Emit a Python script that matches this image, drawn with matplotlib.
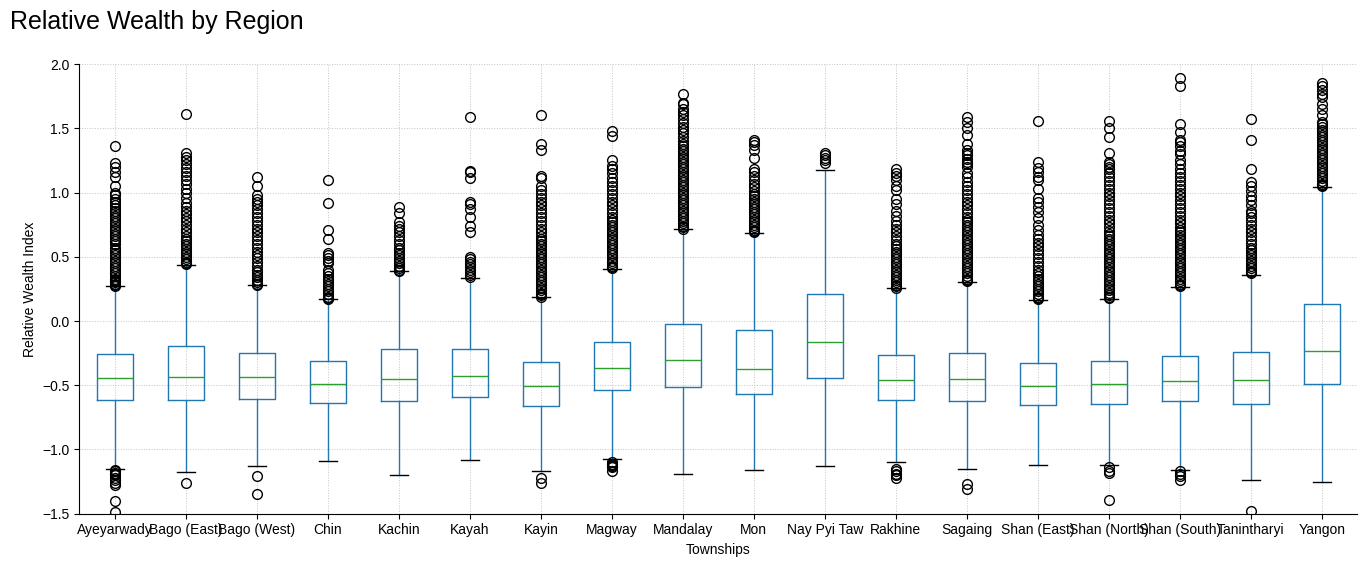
import matplotlib.pyplot as plt

plt.rcParams["font.family"] = ["Liberation Sans", "DejaVu Sans"]

# Regiones y estadisticas de las cajas
regions = ["Ayeyarwady", "Bago (East)", "Bago (West)", "Chin", "Kachin", "Kayah",
           "Kayin", "Magway", "Mandalay", "Mon", "Nay Pyi Taw", "Rakhine",
           "Sagaing", "Shan (East)", "Shan (North)", "Shan (South)",
           "Tanintharyi", "Yangon"]

q1 = [-0.617, -0.617, -0.609, -0.640, -0.625, -0.593, -0.663, -0.539, -0.516,
      -0.570, -0.446, -0.617, -0.625, -0.656, -0.648, -0.625, -0.648, -0.492]
medians = [-0.446, -0.438, -0.438, -0.492, -0.453, -0.430, -0.508, -0.368, -0.306,
           -0.376, -0.166, -0.461, -0.453, -0.508, -0.492, -0.469, -0.461, -0.236]
q3 = [-0.259, -0.197, -0.252, -0.314, -0.220, -0.220, -0.321, -0.161, -0.026,
      -0.073, 0.207, -0.267, -0.252, -0.329, -0.314, -0.275, -0.244, 0.130]
whisker_low = [-1.153, -1.177, -1.130, -1.091, -1.200, -1.083, -1.169, -1.075, -1.192,
               -1.161, -1.130, -1.099, -1.153, -1.122, -1.122, -1.161, -1.239, -1.254]
whisker_high = [0.270, 0.433, 0.277, 0.169, 0.389, 0.332, 0.184, 0.402, 0.713,
                0.682, 1.172, 0.254, 0.300, 0.161, 0.169, 0.262, 0.355, 1.040]

# Valores atipicos por region
outliers = {
    "Ayeyarwady": [0.27, 0.28, 0.29, 0.30, 0.31, 0.32, 0.33, 0.35, 0.37, 0.39, 0.41, 0.43,
                   0.45, 0.47, 0.49, 0.51, 0.53, 0.55, 0.57, 0.60, 0.62, 0.64, 0.66, 0.68,
                   0.70, 0.72, 0.74, 0.76, 0.78, 0.80, 0.82, 0.84, 0.86, 0.88, 0.90, 0.93,
                   0.95, 0.98, 1.00, 1.05, 1.12, 1.16, 1.20, 1.23, 1.36,
                   -1.16, -1.17, -1.18, -1.19, -1.20, -1.22, -1.24, -1.26, -1.28, -1.40, -1.49],
    "Bago (East)": [0.44, 0.45, 0.46, 0.48, 0.50, 0.52, 0.54, 0.56, 0.58, 0.60, 0.62, 0.64,
                    0.66, 0.69, 0.72, 0.75, 0.78, 0.80, 0.83, 0.86, 0.89, 0.92, 0.96, 1.00,
                    1.03, 1.07, 1.10, 1.13, 1.16, 1.19, 1.22, 1.25, 1.28, 1.31, 1.61, -1.26],
    "Bago (West)": [0.28, 0.29, 0.30, 0.32, 0.34, 0.36, 0.38, 0.40, 0.43, 0.46, 0.49, 0.51,
                    0.54, 0.57, 0.60, 0.63, 0.66, 0.69, 0.72, 0.75, 0.78, 0.81, 0.84, 0.87,
                    0.90, 0.93, 0.95, 0.98, 1.05, 1.12, -1.21, -1.35],
    "Chin": [0.17, 0.18, 0.19, 0.21, 0.23, 0.25, 0.27, 0.29, 0.31, 0.33, 0.35, 0.37, 0.40,
             0.45, 0.47, 0.49, 0.51, 0.53, 0.64, 0.71, 0.92, 1.10],
    "Kachin": [0.39, 0.40, 0.41, 0.43, 0.45, 0.47, 0.49, 0.51, 0.53, 0.55, 0.57, 0.60, 0.63,
               0.66, 0.69, 0.72, 0.74, 0.77, 0.84, 0.89],
    "Kayah": [0.34, 0.36, 0.38, 0.40, 0.42, 0.44, 0.46, 0.48, 0.50, 0.69, 0.74, 0.81, 0.87,
              0.91, 0.93, 1.11, 1.16, 1.17, 1.59],
    "Kayin": [0.19, 0.20, 0.21, 0.22, 0.24, 0.26, 0.28, 0.30, 0.32, 0.34, 0.36, 0.38, 0.40,
              0.42, 0.44, 0.46, 0.48, 0.50, 0.52, 0.54, 0.56, 0.58, 0.60, 0.62, 0.64, 0.66,
              0.69, 0.72, 0.75, 0.78, 0.81, 0.84, 0.87, 0.90, 0.93, 0.96, 0.99, 1.02, 1.05,
              1.11, 1.13, 1.33, 1.38, 1.60, -1.22, -1.26],
    "Magway": [0.41, 0.42, 0.43, 0.45, 0.47, 0.49, 0.51, 0.53, 0.55, 0.57, 0.59, 0.61, 0.63,
               0.65, 0.67, 0.69, 0.71, 0.73, 0.75, 0.77, 0.79, 0.81, 0.84, 0.87, 0.90, 0.93,
               0.96, 0.99, 1.02, 1.05, 1.08, 1.11, 1.15, 1.18, 1.21, 1.25, 1.44, 1.48,
               -1.10, -1.11, -1.12, -1.13, -1.14, -1.17],
    "Mandalay": [0.72, 0.73, 0.74, 0.76, 0.78, 0.80, 0.82, 0.84, 0.86, 0.88, 0.90, 0.92,
                 0.94, 0.96, 0.98, 1.00, 1.02, 1.04, 1.06, 1.08, 1.10, 1.12, 1.14, 1.16,
                 1.18, 1.20, 1.22, 1.24, 1.26, 1.28, 1.30, 1.32, 1.34, 1.36, 1.38, 1.40,
                 1.43, 1.46, 1.49, 1.51, 1.54, 1.57, 1.60, 1.63, 1.65, 1.69, 1.70, 1.77],
    "Mon": [0.69, 0.70, 0.71, 0.73, 0.75, 0.77, 0.79, 0.81, 0.83, 0.85, 0.87, 0.89, 0.91,
            0.93, 0.95, 0.97, 0.99, 1.01, 1.04, 1.07, 1.10, 1.13, 1.16, 1.18, 1.27, 1.33,
            1.37, 1.39, 1.41],
    "Nay Pyi Taw": [1.23, 1.25, 1.27, 1.29, 1.31],
    "Rakhine": [0.26, 0.27, 0.28, 0.30, 0.32, 0.34, 0.36, 0.38, 0.40, 0.42, 0.44, 0.46,
                0.48, 0.50, 0.52, 0.54, 0.56, 0.58, 0.60, 0.63, 0.66, 0.69, 0.72, 0.75,
                0.78, 0.82, 0.86, 0.91, 0.95, 1.02, 1.05, 1.10, 1.13, 1.15, 1.18,
                -1.15, -1.17, -1.19, -1.20, -1.22],
    "Sagaing": [0.31, 0.32, 0.33, 0.35, 0.37, 0.39, 0.41, 0.43, 0.45, 0.47, 0.49, 0.51,
                0.53, 0.55, 0.57, 0.59, 0.61, 0.63, 0.65, 0.67, 0.69, 0.71, 0.73, 0.75,
                0.77, 0.79, 0.81, 0.84, 0.87, 0.90, 0.93, 0.96, 0.99, 1.02, 1.05, 1.08,
                1.12, 1.15, 1.20, 1.22, 1.24, 1.26, 1.29, 1.31, 1.33, 1.38, 1.45, 1.50,
                1.55, 1.59, -1.27, -1.31],
    "Shan (East)": [0.17, 0.18, 0.19, 0.21, 0.23, 0.25, 0.27, 0.29, 0.31, 0.33, 0.35, 0.37,
                    0.40, 0.43, 0.46, 0.49, 0.52, 0.55, 0.58, 0.61, 0.64, 0.67, 0.71, 0.75,
                    0.80, 0.85, 0.89, 0.93, 0.96, 1.03, 1.10, 1.12, 1.16, 1.19, 1.24, 1.56],
    "Shan (North)": [0.18, 0.19, 0.20, 0.22, 0.24, 0.26, 0.28, 0.30, 0.32, 0.34, 0.36,
                     0.38, 0.40, 0.42, 0.44, 0.46, 0.48, 0.50, 0.52, 0.54, 0.56, 0.58,
                     0.60, 0.62, 0.64, 0.66, 0.68, 0.70, 0.73, 0.76, 0.79, 0.82, 0.85,
                     0.88, 0.91, 0.94, 0.97, 1.00, 1.03, 1.06, 1.09, 1.12, 1.15, 1.18,
                     1.20, 1.22, 1.24, 1.31, 1.43, 1.50, 1.56,
                     -1.14, -1.17, -1.18, -1.39],
    "Shan (South)": [0.27, 0.28, 0.29, 0.31, 0.33, 0.35, 0.37, 0.39, 0.41, 0.43, 0.45,
                     0.47, 0.49, 0.51, 0.53, 0.55, 0.57, 0.59, 0.61, 0.63, 0.65, 0.67,
                     0.69, 0.71, 0.73, 0.76, 0.79, 0.82, 0.85, 0.88, 0.91, 0.94, 0.97,
                     1.00, 1.03, 1.06, 1.09, 1.12, 1.15, 1.18, 1.22, 1.25, 1.30, 1.32,
                     1.36, 1.39, 1.41, 1.47, 1.53, 1.83, 1.89,
                     -1.17, -1.19, -1.21, -1.24],
    "Tanintharyi": [0.37, 0.38, 0.39, 0.41, 0.43, 0.45, 0.47, 0.49, 0.51, 0.53, 0.55,
                    0.57, 0.60, 0.63, 0.66, 0.69, 0.72, 0.75, 0.78, 0.81, 0.84, 0.86,
                    0.90, 0.94, 0.97, 1.01, 1.05, 1.08, 1.18, 1.41, 1.57, -1.48],
    "Yangon": [1.05, 1.06, 1.07, 1.09, 1.11, 1.13, 1.15, 1.17, 1.19, 1.21, 1.23, 1.25,
               1.27, 1.29, 1.31, 1.33, 1.35, 1.37, 1.39, 1.41, 1.43, 1.45, 1.47, 1.49,
               1.51, 1.53, 1.55, 1.60, 1.65, 1.69, 1.74, 1.77, 1.80, 1.83, 1.85],
}

stats = []
for i, r in enumerate(regions):
    stats.append({
        "label": r,
        "q1": q1[i],
        "med": medians[i],
        "q3": q3[i],
        "whislo": whisker_low[i],
        "whishi": whisker_high[i],
        "fliers": outliers[r],
    })

fig, ax = plt.subplots(figsize=(13.67, 5.67), dpi=100)
fig.subplots_adjust(left=0.058, right=0.993, top=0.887, bottom=0.094)

ax.bxp(stats, widths=0.5,
       boxprops=dict(color="#1f77b4"),
       whiskerprops=dict(color="#1f77b4"),
       capprops=dict(color="black"),
       medianprops=dict(color="#2ca02c"),
       flierprops=dict(marker="o", markerfacecolor="none",
                       markeredgecolor="black", markersize=7))

ax.set_ylim(-1.5, 2.0)
ax.set_xlim(0.5, len(regions) + 0.5)
ax.grid(True, linestyle=":", color="#c4c4c4", linewidth=0.7)
ax.set_axisbelow(True)
ax.spines["top"].set_visible(False)
ax.spines["right"].set_visible(False)
ax.tick_params(labelsize=10)
ax.set_xlabel("Townships", fontsize=10)
ax.set_ylabel("Relative Wealth Index", fontsize=10)

fig.text(0.007, 0.962, "Relative Wealth by Region", fontsize=18,
         ha="left", va="center")

fig.savefig("out.png", dpi=100)
